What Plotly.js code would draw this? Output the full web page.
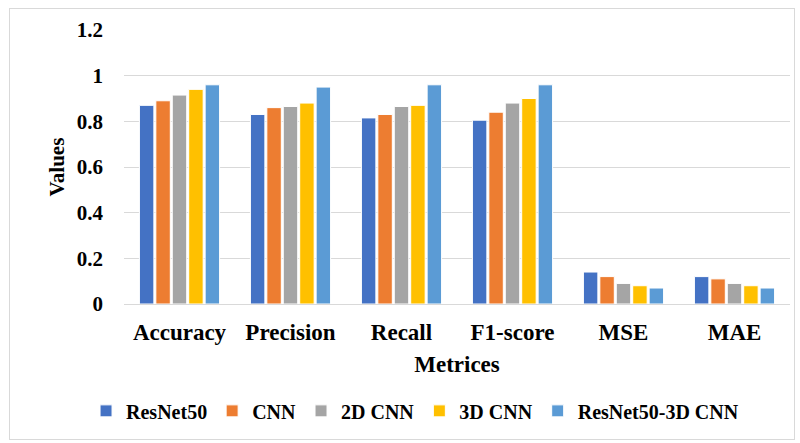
<!DOCTYPE html>
<html><head><meta charset="utf-8">
<script src="https://cdn.plot.ly/plotly-3.0.1.min.js"></script>
<style>
html,body{margin:0;padding:0;background:#fff;}
#wrap{position:relative;width:800px;height:443px;}
#chart{width:800px;height:443px;}
#frame{position:absolute;left:9px;top:8px;width:786px;height:432px;border:1px solid #d9d9d9;pointer-events:none;box-sizing:border-box;}
</style>
</head><body>
<div id="wrap"><div id="chart"></div><div id="frame"></div></div>
<script>
const categories = ["Accuracy", "Precision", "Recall", "F1-score", "MSE", "MAE"];
const resnet50 = [0.87, 0.83, 0.815, 0.805, 0.14, 0.12];
const cnn = [0.89, 0.86, 0.83, 0.84, 0.12, 0.11];
const cnn2d = [0.915, 0.865, 0.865, 0.88, 0.09, 0.09];
const cnn3d = [0.94, 0.88, 0.87, 0.90, 0.08, 0.08];
const resnet3d = [0.96, 0.95, 0.96, 0.96, 0.07, 0.07];
const seriesNames = ["ResNet50", "CNN", "2D CNN", "3D CNN", "ResNet50-3D CNN"];
const colors = ["#4472C4", "#ED7D31", "#A5A5A5", "#FFC000", "#5B9BD5"];
const seriesValues = [resnet50, cnn, cnn2d, cnn3d, resnet3d];

const font = {family: "Liberation Serif, Times New Roman, serif", color: "#000", weight: "bold"};

const traces = seriesValues.map((v, i) => ({
  type: "bar", x: categories, y: v, name: seriesNames[i],
  marker: {color: colors[i], line: {color: "#ffffff", width: 1}}
}));

const layout = {
  width: 800, height: 443,
  margin: {l: 124, r: 10, t: 30, b: 139},
  paper_bgcolor: "#fff", plot_bgcolor: "#fff",
  barmode: "group", bargap: 0.26, bargroupgap: 0.12,
  font: Object.assign({}, font, {size: 18}),
  xaxis: {
    automargin: false, tickangle: 0,
    showline: true, linecolor: "#d9d9d9", linewidth: 1,
    tickfont: Object.assign({}, font, {size: 23}),
    ticklabelstandoff: 7,
    title: {text: "Metrices", font: Object.assign({}, font, {size: 23}), standoff: 12}
  },
  yaxis: {
    automargin: false,
    range: [0, 1.2], dtick: 0.2, tick0: 0,
    showgrid: true, gridcolor: "#d9d9d9", gridwidth: 1,
    zeroline: false, showline: false,
    tickfont: Object.assign({}, font, {size: 21}),
    ticklabelstandoff: 20,
    title: {text: "Values", font: Object.assign({}, font, {size: 21}), standoff: 6}
  },
  legend: {
    orientation: "h", x: 0.437, xanchor: "center",
    y: -0.39, yanchor: "middle",
    font: Object.assign({}, font, {size: 20}),
    itemwidth: 30, tracegroupgap: 0
  },
  showlegend: true
};

Plotly.newPlot("chart", traces, layout, {displayModeBar: false, staticPlot: true});
</script>
</body></html>
